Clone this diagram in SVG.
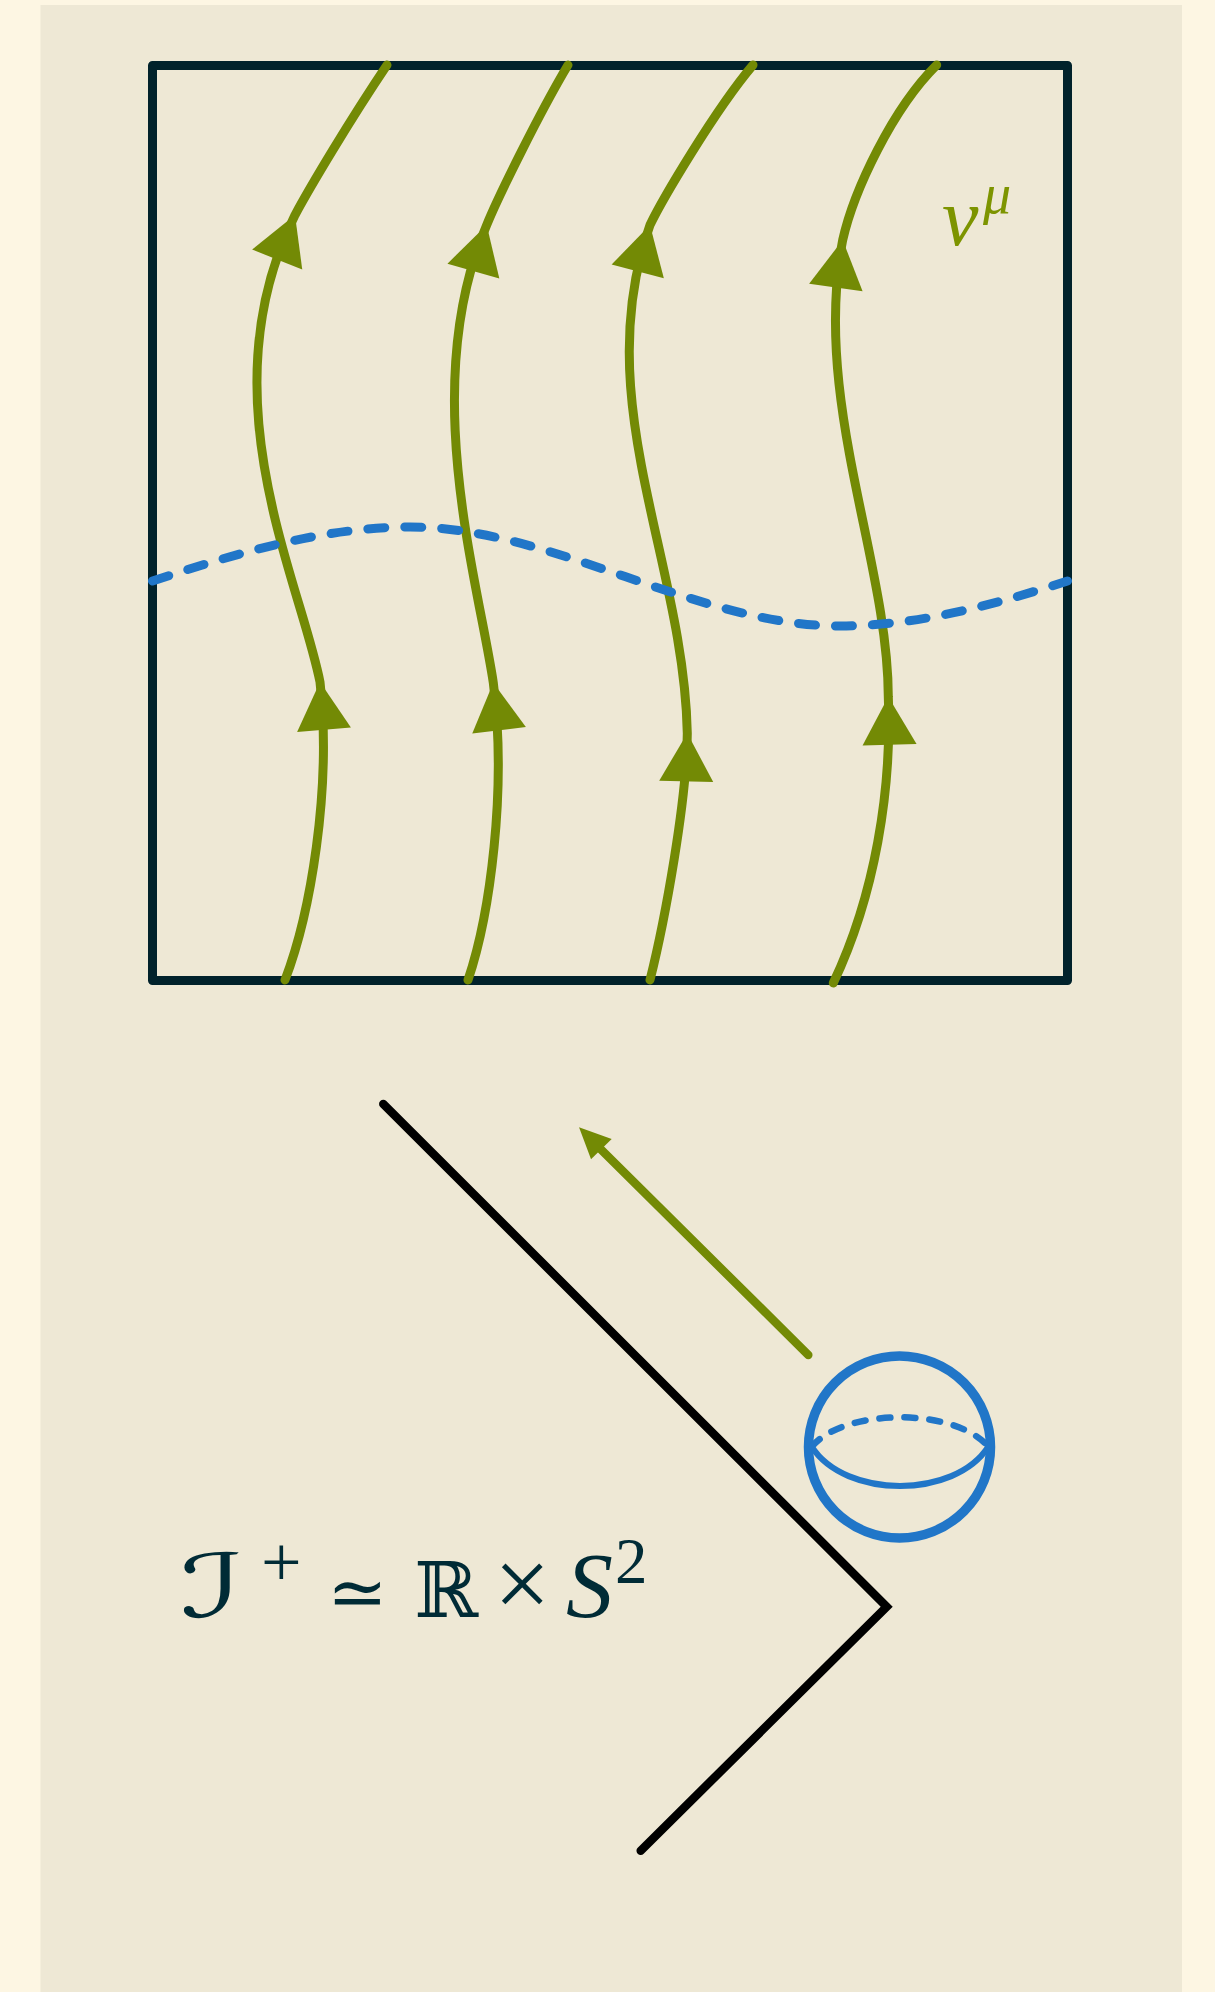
<svg xmlns="http://www.w3.org/2000/svg" xmlns:xlink="http://www.w3.org/1999/xlink" width="1215" height="1992" viewBox="0 0 1215 1992">
<defs>
<style>
.flow{fill:none;stroke:#738a05;stroke-width:9;stroke-linecap:round;stroke-linejoin:round}
.head{fill:#738a05;stroke:none}
.blue{fill:none;stroke:#2176c8;stroke-linecap:round}
.frame{fill:none;stroke:#01222b;stroke-width:9;stroke-linejoin:round;stroke-linecap:round}
.scri{fill:none;stroke:#000;stroke-width:8.5;stroke-linecap:round;stroke-linejoin:miter}
.math{fill:#002b36;font-family:"Liberation Serif","DejaVu Serif","DejaVu Sans",serif}
</style>
<path id="ah" d="M0,0 L-48,-27 L-48,27 Z"/>
</defs>
<rect x="0" y="0" width="1215" height="1992" fill="#fdf6e3"/>
<rect x="40.5" y="5" width="1141.5" height="1995" fill="#eee8d5"/>

<g id="frame">
<rect class="frame" x="152.5" y="65.5" width="915" height="915"/>
</g>

<g id="connectors">
<g id="flow-lines">
<path class="flow" d="M285,980 C310,915 332,790 320,682 C300,580 205,395 295,215 C310,187 350,120 387,65"/>
<path class="flow" d="M468,980 C490,915 507,790 493.3,682.7 C478,580 418,385 486.7,225 C498,197 540,112 568,65"/>
<path class="flow" d="M650,980 C665,920 687,800 687.3,733.3 C684,560 588,400 650,225 C662,200 715,110 753,65"/>
<path class="flow" d="M833.3,983 C875,895 892,790 888.3,696.7 C888,560 812,400 842.7,240 C854,190 893,108 936.7,65"/>
<use href="#ah" class="head" transform="translate(295,215) rotate(-68.2)"/>
<use href="#ah" class="head" transform="translate(320,682) rotate(-94.8)"/>
<use href="#ah" class="head" transform="translate(486.7,225) rotate(-73.9)"/>
<use href="#ah" class="head" transform="translate(493.3,682.7) rotate(-96.9)"/>
<use href="#ah" class="head" transform="translate(650,225) rotate(-75.2)"/>
<use href="#ah" class="head" transform="translate(687.3,733.3) rotate(-88.7)"/>
<use href="#ah" class="head" transform="translate(842.7,240) rotate(-81.8)"/>
<use href="#ah" class="head" transform="translate(888.3,696.7) rotate(-91.5)"/>
</g>
<path id="cauchy-slice" class="blue" stroke-width="9" stroke-dasharray="17 20" d="M152.5,581 C238.5,552.6 324,527 410,527 C553,527 697,626 840,626 C916,626 991.5,605.6 1067.5,581"/>
<g id="transport-arrow">
<line x1="808.3" y1="1355" x2="600" y2="1148.5" stroke="#738a05" stroke-width="8.5" stroke-linecap="round"/>
<path class="head" d="M579,1127.3 L611.7,1139 L591,1159.3 Z"/>
</g>
</g>

<g id="label-v">
<text x="942" y="245" font-family="Liberation Serif,serif" font-style="italic" font-size="82" fill="#7d9400">ν</text>
<text x="983" y="213" font-family="Liberation Serif,serif" font-style="italic" font-size="56" fill="#7d9400">μ</text>
</g>

<g id="scri">
<polyline class="scri" points="383.3,1104 886.7,1606.7 640.7,1850.7"/>
</g>

<g id="sphere">
<circle cx="899.5" cy="1447" r="91" fill="none" stroke="#2176c8" stroke-width="9.5"/>
<path class="blue" stroke-width="6" d="M811.7,1446.7 C845,1499 955,1499 988.3,1446.7"/>
<path class="blue" stroke-width="6.5" stroke-dasharray="11 14" d="M811.7,1446.7 C845,1407.5 955,1407.5 988.3,1446.7"/>
</g>

<g id="label-scri" class="math">
<text x="0" y="0" font-size="88" font-style="italic" transform="translate(180,1617) scale(1.55,1)">ℐ</text>
<text x="261" y="1586" font-size="72">+</text>
<text x="327" y="1617" font-size="72">≃</text>
<text x="414" y="1617" font-size="77">ℝ</text>
<text x="494" y="1617" font-size="100">×</text>
<text x="566" y="1617" font-size="94" font-style="italic">S</text>
<text x="615" y="1583" font-size="65">2</text>
</g>
</svg>
